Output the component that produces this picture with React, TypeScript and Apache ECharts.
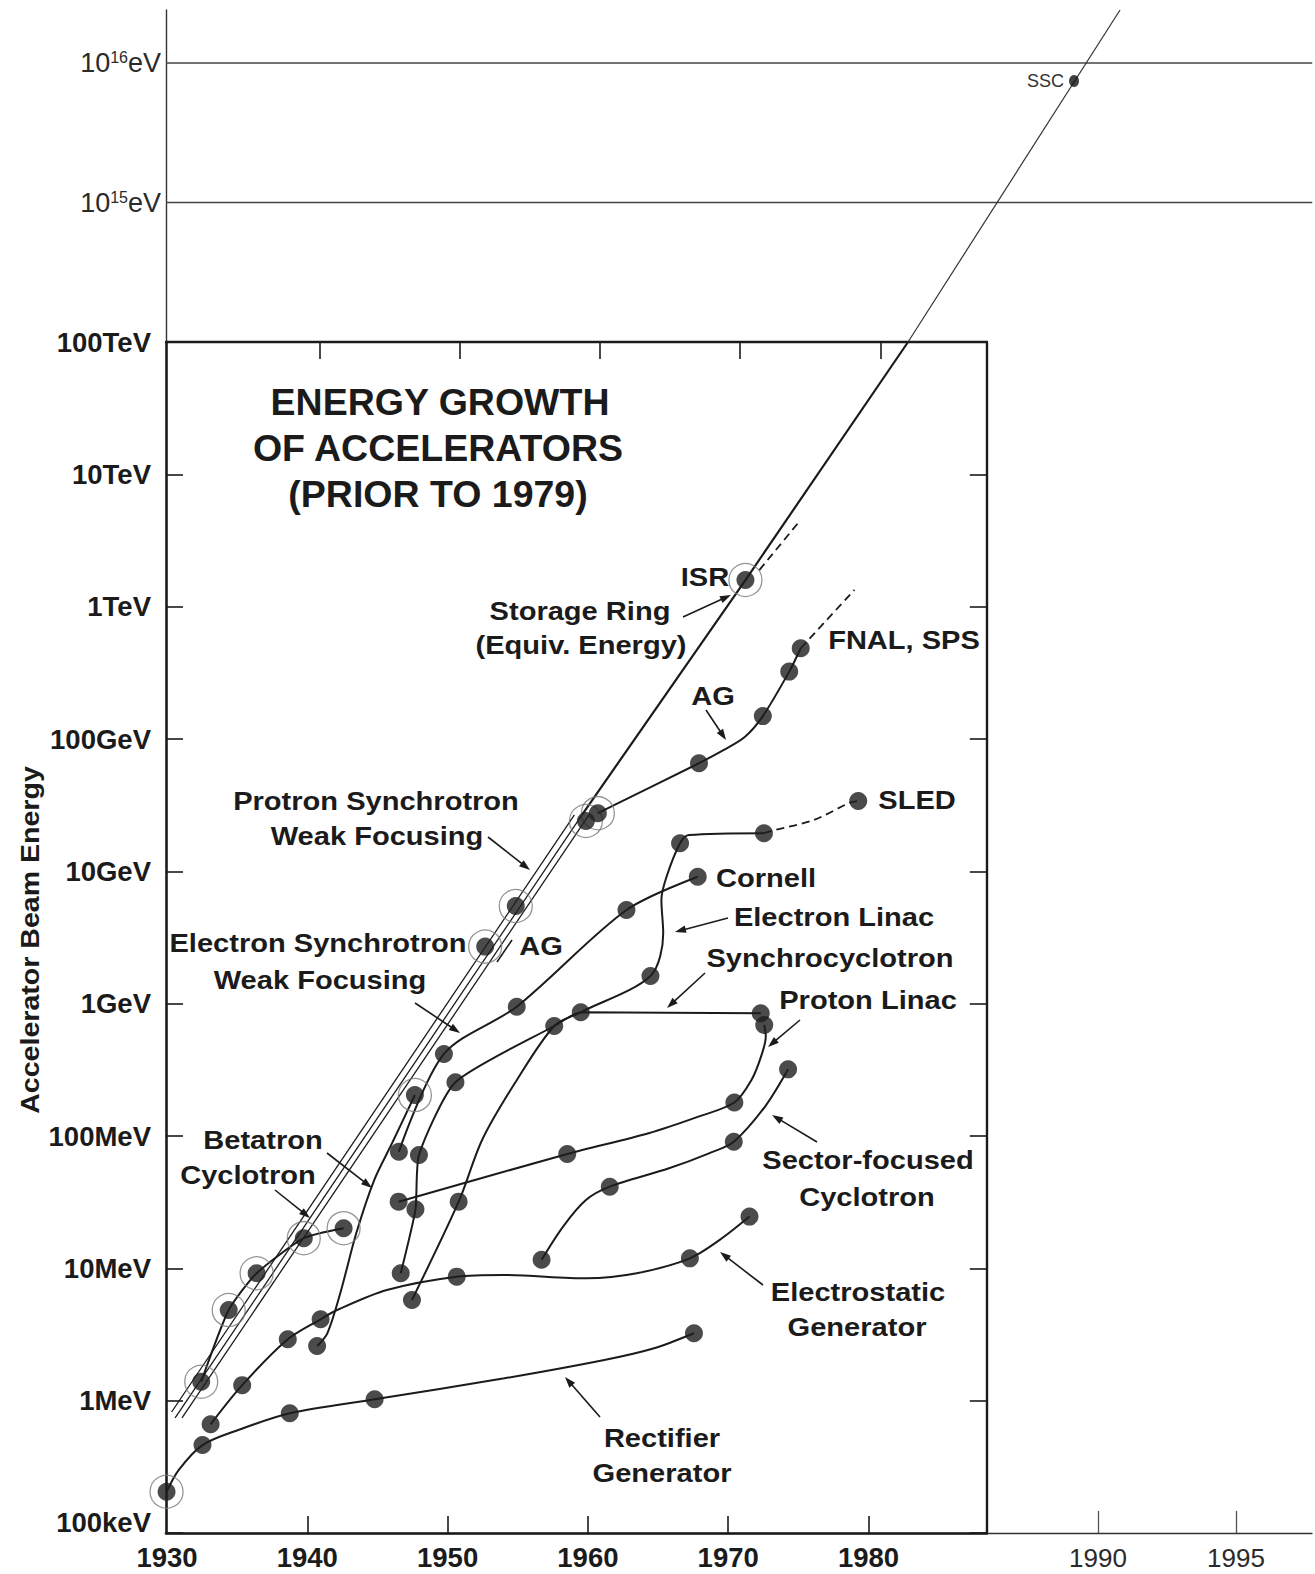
import React, { useEffect, useRef } from "react";
import * as echarts from "echarts";

// ---------------- tick / label definitions ----------------
const yearTickValues = [1940, 1950, 1960, 1970, 1980];
const yearLabelValues = [1930, 1940, 1950, 1960, 1970, 1980];
const laterYearValues = [1990, 1995];
const energyTickNames = ["100keV", "1MeV", "10MeV", "100MeV", "1GeV", "10GeV", "100GeV", "1TeV", "10TeV", "100TeV"]; // 1e5 .. 1e14 eV
const upperExponents = [15, 16];

// ---------------- data: [year, beam energy in eV] ----------------
const rectifierDots = [[1932.10, 4.62e5], [1938.32, 8.03e5], [1944.37, 1.024e6], [1967.13, 3.23e6]];
const rectifierCurve = [[1929.54, 2.05e5], [1930.40, 2.99e5], [1932.10, 4.62e5], [1934.65, 6.0e5], [1938.32, 8.03e5], [1944.37, 1.024e6], [1953.62, 1.476e6], [1960.74, 2.03e6], [1964.29, 2.49e6], [1967.13, 3.23e6]];

const electrostaticDots = [[1932.68, 6.63e5], [1934.93, 1.31e6], [1938.18, 2.91e6], [1940.52, 4.12e6], [1950.22, 8.65e6], [1966.84, 1.19e7], [1971.09, 2.46e7]];
const electrostaticCurve = [[1932.68, 6.63e5], [1934.93, 1.31e6], [1938.18, 2.91e6], [1940.52, 4.12e6], [1941.69, 4.84e6], [1945.24, 6.86e6], [1950.22, 8.65e6], [1953.55, 8.91e6], [1959.49, 8.41e6], [1963.05, 9.18e6], [1966.84, 1.19e7], [1968.97, 1.64e7], [1971.09, 2.46e7]];

const cyclotronCurve = [[1932.01, 1.39e6], [1933.97, 4.84e6], [1935.96, 9.18e6], [1939.32, 1.69e7], [1942.16, 2.01e7]];

const betatronDots = [[1940.27, 2.59e6]];
const betatronCurve = [[1940.27, 2.59e6], [1941.0, 3.23e6], [1941.92, 6.48e6], [1943.06, 1.84e7], [1944.34, 4.65e7], [1945.61, 8.81e7], [1947.24, 2.04e8]];

const electronSynchrotronDots = [[1946.10, 7.61e7], [1949.31, 4.17e8], [1954.50, 9.49e8], [1962.32, 5.10e9], [1967.40, 9.11e9]];
const electronSynchrotronCurve = [[1946.10, 7.61e7], [1949.31, 4.17e8], [1954.50, 9.49e8], [1962.32, 5.10e9], [1967.40, 9.11e9]];

const synchrocyclotronDots = [[1946.23, 9.18e6], [1947.28, 2.79e7], [1947.53, 7.19e7], [1950.13, 2.55e8], [1957.17, 6.78e8], [1959.06, 8.61e8], [1971.89, 8.46e8]];
const synchrocyclotronCurve = [[1946.23, 9.18e6], [1947.28, 2.79e7], [1947.53, 7.19e7], [1950.13, 2.55e8], [1957.17, 6.78e8], [1959.06, 8.61e8], [1971.89, 8.46e8]];

const electronLinacDots = [[1947.03, 5.77e6], [1950.36, 3.19e7], [1964.03, 1.62e9], [1966.14, 1.63e10], [1972.12, 1.94e10]];
const electronLinacCurve = [[1947.03, 5.77e6], [1950.36, 3.19e7], [1952.03, 9.33e7], [1954.36, 2.50e8], [1957.17, 6.78e8], [1959.06, 8.61e8], [1964.03, 1.62e9], [1964.94, 3.40e9], [1964.81, 6.07e9], [1965.17, 9.06e9], [1966.14, 1.63e10], [1966.78, 1.88e10], [1972.12, 1.94e10]];
const sledDots = [[1978.84, 3.40e10]];
const sledDashed = [[1972.12, 1.94e10], [1972.88, 2.05e10], [1975.67, 2.44e10], [1978.21, 3.29e10], [1978.84, 3.40e10]];

const protonLinacDots = [[1946.08, 3.19e7], [1958.10, 7.31e7], [1970.01, 1.79e8], [1972.14, 6.90e8]];
const protonLinacCurve = [[1946.08, 3.19e7], [1958.10, 7.31e7], [1963.90, 1.05e8], [1967.45, 1.40e8], [1970.01, 1.79e8], [1971.23, 2.65e8], [1971.91, 3.98e8], [1972.25, 5.63e8], [1972.14, 6.90e8]];

const sectorCyclotronDots = [[1956.27, 1.16e7], [1961.13, 4.14e7], [1969.97, 9.06e7], [1973.84, 3.19e8]];
const sectorCyclotronCurve = [[1956.27, 1.16e7], [1957.79, 2.06e7], [1959.43, 3.28e7], [1961.13, 4.14e7], [1965.35, 5.70e7], [1968.20, 7.40e7], [1969.97, 9.06e7], [1972.20, 1.67e8], [1973.84, 3.19e8]];

const agSynchrotronDots = [[1967.49, 6.56e10], [1972.04, 1.49e11], [1973.92, 3.23e11], [1974.74, 4.85e11]];
const agSynchrotronCurve = [[1960.28, 2.75e10], [1967.49, 6.56e10], [1969.26, 8.26e10], [1970.77, 1.04e11], [1972.04, 1.49e11], [1973.92, 3.23e11], [1974.74, 4.85e11]];
const agDashed = [[1974.74, 4.85e11], [1978.57, 1.34e12]];

// circled points (cyclotron, betatron / synchrotron firsts, AG pair, ISR)
const ringedPoints = [[1929.54, 2.05e5], [1932.01, 1.39e6], [1933.97, 4.84e6], [1935.96, 9.18e6], [1939.32, 1.69e7], [1942.16, 2.01e7], [1947.24, 2.04e8], [1952.25, 2.70e9], [1954.43, 5.47e9], [1959.43, 2.40e10], [1960.28, 2.75e10], [1970.80, 1.59e12]];

// envelope lines
const envelopeLeft = [[1929.90, 8.21e5], [1958.61, 2.67e10]];
const envelopeMid = [[1930.15, 7.40e5], [1959.15, 2.67e10]];
const envelopeRight = [[1930.64, 7.40e5], [1959.65, 2.67e10]];
const storageRingLine = [[1959.15, 2.67e10], [1970.80, 1.59e12], [1982.39, 1e14]];
const isrDashed = [[1971.79, 1.89e12], [1974.61, 4.36e12]];

// extension above 100 TeV
const extrapolationLine = [[1982.39, 1e14], [1997.50, 2.399e16]];
const sscPoint = [[1994.22, 7.43e15]];
const upperLineYearSpan = [1929.5, 2011.2];

// ---------------- layout ----------------
const INK = "#1b1b1b";
const FONT = '"Liberation Sans", Arial, Helvetica, sans-serif';
const W = 1315, H = 1574;
const LEFT = 166, PX_PER_YEAR = 14.03, YEAR_MIN = 1929.5;
const BOTTOM_TICK_SHIFT_PX = 6, TOP_TICK_SHIFT_PX = -6;
const MAIN_RIGHT = 1312, BOX_RIGHT = 986.8;
const BOX_TOP = 342, AXIS_BOTTOM = 1533, UPPER_TOP = 10;
const UPPER_DECADE_PX = 139.5;
const LATER_PX = [1098, 1236];

const annotations: { t: string; x: number; y: number; size?: number; sx?: number }[] = [
  { t: "ENERGY GROWTH", x: 440, y: 402, size: 37.5, sx: 1 },
  { t: "OF ACCELERATORS", x: 438, y: 448, size: 37.5, sx: 1 },
  { t: "(PRIOR TO 1979)", x: 438, y: 494, size: 37.5, sx: 1 },
  { t: "ISR", x: 705, y: 577 },
  { t: "Storage Ring", x: 580, y: 611 },
  { t: "(Equiv. Energy)", x: 581, y: 645 },
  { t: "AG", x: 713, y: 696 },
  { t: "FNAL, SPS", x: 904, y: 640 },
  { t: "SLED", x: 917, y: 800 },
  { t: "Cornell", x: 766, y: 878 },
  { t: "Electron Linac", x: 834, y: 917 },
  { t: "Synchrocyclotron", x: 830, y: 958 },
  { t: "Proton Linac", x: 868, y: 1000 },
  { t: "Protron Synchrotron", x: 376, y: 801 },
  { t: "Weak Focusing", x: 377, y: 836 },
  { t: "Electron Synchrotron", x: 318, y: 943 },
  { t: "Weak Focusing", x: 320, y: 980 },
  { t: "AG", x: 541, y: 946 },
  { t: "Betatron", x: 263, y: 1140 },
  { t: "Cyclotron", x: 248, y: 1175 },
  { t: "Sector-focused", x: 868, y: 1160 },
  { t: "Cyclotron", x: 867, y: 1197 },
  { t: "Electrostatic", x: 858, y: 1292 },
  { t: "Generator", x: 857, y: 1327 },
  { t: "Rectifier", x: 662, y: 1438 },
  { t: "Generator", x: 662, y: 1473 },
];

const arrows = [
  [683, 617, 731, 595],
  [706, 710, 726, 740],
  [488, 837, 530, 870],
  [415, 1003, 460, 1033],
  [327, 1153, 372, 1188],
  [275, 1190, 310, 1218],
  [728, 918, 675, 932],
  [705, 973, 667, 1008],
  [800, 1020, 768, 1047],
  [817, 1142, 772, 1115],
  [763, 1285, 720, 1252],
  [600, 1417, 565, 1377],
];
const pointerLines = [[497, 962, 512, 940]];

function textEl(text: string, x: number, y: number, size: number, extra: any = {}) {
  return {
    type: "text",
    x,
    y,
    z: 100,
    silent: true,
    ...extra,
    style: {
      text,
      fill: extra.fill ?? INK,
      fontFamily: FONT,
      fontWeight: extra.weight ?? "bold",
      fontSize: size,
      textAlign: extra.align ?? "center",
      align: extra.align ?? "center",
      textVerticalAlign: "middle",
      verticalAlign: "middle",
    },
  };
}

function buildGraphics() {
  const els: any[] = [];
  annotations.forEach((a) => {
    els.push(textEl(a.t, a.x, a.y, a.size ?? 25.5, { scaleX: a.sx ?? 1.14 }));
  });
  els.push(textEl("Accelerator Beam Energy", 30, 940, 25.5, { rotation: Math.PI / 2, scaleX: 1.12 }));
  els.push(textEl("SSC", 1064, 81, 18, { align: "right", weight: "normal", fill: "#333" }));
  arrows.forEach(([x1, y1, x2, y2]) => {
    const dx = x2 - x1, dy = y2 - y1;
    const len = Math.hypot(dx, dy);
    const ux = dx / len, uy = dy / len;
    const hl = 11, hw = 3.8;
    const bx = x2 - ux * hl, by = y2 - uy * hl;
    els.push({
      type: "line", z: 100, silent: true,
      shape: { x1, y1, x2: bx + ux * 2, y2: by + uy * 2 },
      style: { stroke: INK, lineWidth: 1.6 },
    });
    els.push({
      type: "polygon", z: 100, silent: true,
      shape: { points: [[x2, y2], [bx - uy * hw, by + ux * hw], [bx + uy * hw, by - ux * hw]] },
      style: { fill: INK },
    });
  });
  pointerLines.forEach(([x1, y1, x2, y2]) => {
    els.push({ type: "line", z: 100, silent: true, shape: { x1, y1, x2, y2 }, style: { stroke: INK, lineWidth: 1.6 } });
  });
  return els;
}

function buildOption() {
  const yearMaxMain = YEAR_MIN + (MAIN_RIGHT - LEFT) / PX_PER_YEAR;
  const boxYears = (BOX_RIGHT - LEFT) / PX_PER_YEAR;
  const bottomMin = YEAR_MIN + BOTTOM_TICK_SHIFT_PX / PX_PER_YEAR;
  const topMin = YEAR_MIN + TOP_TICK_SHIFT_PX / PX_PER_YEAR;
  const laterPxPerYear = (LATER_PX[1] - LATER_PX[0]) / (laterYearValues[1] - laterYearValues[0]);
  const laterMin = laterYearValues[0] - (LATER_PX[0] - LEFT) / laterPxPerYear;
  const laterMax = laterMin + (MAIN_RIGHT - LEFT) / laterPxPerYear;
  const upperMaxExp = 14 + (BOX_TOP - UPPER_TOP) / UPPER_DECADE_PX;

  const yearFmt = (v: number) => String(Math.round(v));
  const labelBold = { color: INK, fontFamily: FONT, fontWeight: "bold" as const, fontSize: 27.5 };

  const lineSeries = (data: number[][], width: number, opts: any = {}) => ({
    type: "line",
    data,
    xAxisIndex: opts.xi ?? 0,
    yAxisIndex: opts.yi ?? 0,
    showSymbol: false,
    symbol: "none",
    smooth: opts.smooth ?? 0.3,
    silent: true,
    z: 2,
    lineStyle: { color: opts.color ?? INK, width, type: opts.dash ?? "solid" },
  });

  const allDots = [
    ...rectifierDots, ...electrostaticDots, ...betatronDots, ...electronSynchrotronDots,
    ...synchrocyclotronDots, ...electronLinacDots, ...sledDots, ...protonLinacDots,
    ...sectorCyclotronDots, ...agSynchrotronDots, ...ringedPoints,
  ];

  return {
    animation: false,
    backgroundColor: "#ffffff",
    grid: [
      { left: LEFT, right: W - MAIN_RIGHT, top: BOX_TOP, bottom: H - AXIS_BOTTOM, containLabel: false, outerBoundsMode: "none" },
      { left: LEFT, right: W - BOX_RIGHT, top: BOX_TOP, bottom: H - AXIS_BOTTOM, containLabel: false, outerBoundsMode: "none" },
      { left: LEFT, right: W - MAIN_RIGHT, top: UPPER_TOP, bottom: H - BOX_TOP, containLabel: false, outerBoundsMode: "none" },
    ],
    xAxis: [
      {
        // data axis of the main panel
        gridIndex: 0, type: "value", position: "bottom", min: YEAR_MIN, max: yearMaxMain,
        axisLine: { show: true, onZero: false, lineStyle: { color: "#333", width: 1.4 } },
        axisTick: { show: false }, axisLabel: { show: false }, splitLine: { show: false },
      },
      {
        gridIndex: 0, type: "value", position: "bottom", min: laterMin, max: laterMax,
        axisLine: { show: false },
        axisTick: { show: true, inside: true, length: 22, customValues: laterYearValues, lineStyle: { color: "#555", width: 1.3 } },
        axisLabel: { show: true, customValues: laterYearValues, formatter: yearFmt, margin: 12, color: "#2a2a2a", fontFamily: FONT, fontWeight: "normal", fontSize: 26 },
        splitLine: { show: false },
      },
      {
        gridIndex: 1, type: "value", position: "top", min: topMin, max: topMin + boxYears,
        axisLine: { show: true, onZero: false, lineStyle: { color: INK, width: 2.4 } },
        axisTick: { show: true, inside: true, length: 17, customValues: yearTickValues, lineStyle: { color: INK, width: 1.6 } },
        axisLabel: { show: false },
        splitLine: { show: false },
      },
      {
        gridIndex: 1, type: "value", position: "bottom", min: bottomMin, max: bottomMin + boxYears,
        axisLine: { show: true, onZero: false, lineStyle: { color: INK, width: 2.6 } },
        axisTick: { show: true, inside: true, length: 17, customValues: yearTickValues, lineStyle: { color: INK, width: 1.6 } },
        axisLabel: { show: true, customValues: yearLabelValues, formatter: yearFmt, margin: 10, ...labelBold },
        splitLine: { show: false },
      },
      { gridIndex: 2, type: "value", min: YEAR_MIN, max: yearMaxMain, show: false, splitLine: { show: false } },
    ],
    yAxis: [
      {
        gridIndex: 0, type: "log", logBase: 10, min: 1e5, max: 1e14, position: "left",
        axisLine: { show: true, onZero: false, lineStyle: { color: INK, width: 2.6 } },
        axisTick: { show: true, inside: true, length: 17, lineStyle: { color: INK, width: 1.6 } },
        minorTick: { show: false },
        axisLabel: {
          margin: 15,
          ...labelBold,
          formatter: (v: number) => {
            const e = Math.round(Math.log10(v));
            const name = energyTickNames[e - 5] ?? "";
            return e === 5 ? `{low|${name}}` : name;
          },
          rich: { low: { ...labelBold, padding: [0, 0, 22, 0] } },
        },
        splitLine: { show: false },
      },
      {
        gridIndex: 1, type: "log", logBase: 10, min: 1e5, max: 1e14, position: "right",
        axisLine: { show: true, onZero: false, lineStyle: { color: INK, width: 2.4 } },
        axisTick: { show: true, inside: true, length: 17, lineStyle: { color: INK, width: 1.6 } },
        axisLabel: { show: false }, splitLine: { show: false },
      },
      {
        gridIndex: 2, type: "log", logBase: 10, min: 1e14, max: Math.pow(10, upperMaxExp), position: "left",
        axisLine: { show: true, onZero: false, lineStyle: { color: "#333", width: 1.4 } },
        axisTick: { show: false },
        axisLabel: {
          margin: 5,
          color: "#2a2a2a",
          fontFamily: FONT,
          fontSize: 27,
          formatter: (v: number) => {
            const e = Math.round(Math.log10(v));
            if (Math.abs(Math.log10(v) - e) > 1e-6 || upperExponents.indexOf(e) < 0) return "";
            return `{n|10}{s|${e}}{n|eV}`;
          },
          rich: {
            n: { fontSize: 27, fontFamily: FONT, color: "#2a2a2a" },
            s: { fontSize: 16, fontFamily: FONT, color: "#2a2a2a", verticalAlign: "top" },
          },
        },
        splitLine: { show: false },
      },
    ],
    graphic: { elements: buildGraphics() },
    series: [
      lineSeries(envelopeLeft, 1.3, { smooth: false }),
      lineSeries(envelopeMid, 1.3, { smooth: false }),
      lineSeries(envelopeRight, 1.3, { smooth: false }),
      lineSeries(storageRingLine, 2.2, { smooth: false }),
      lineSeries(isrDashed, 1.8, { smooth: false, dash: [8, 5] }),
      lineSeries(rectifierCurve, 2),
      lineSeries(electrostaticCurve, 2),
      lineSeries(cyclotronCurve, 2, { smooth: 0.2 }),
      lineSeries(betatronCurve, 2),
      lineSeries(electronSynchrotronCurve, 2),
      lineSeries(synchrocyclotronCurve, 2, { smooth: 0.2 }),
      lineSeries(electronLinacCurve, 2),
      lineSeries(sledDashed, 1.8, { dash: [8, 5] }),
      lineSeries(protonLinacCurve, 2),
      lineSeries(sectorCyclotronCurve, 2),
      lineSeries(agSynchrotronCurve, 2),
      lineSeries(agDashed, 1.8, { smooth: false, dash: [8, 5] }),
      lineSeries([[upperLineYearSpan[0], 1e15], [upperLineYearSpan[1], 1e15]], 1.4, { xi: 4, yi: 2, smooth: false, color: "#444" }),
      lineSeries([[upperLineYearSpan[0], 1e16], [upperLineYearSpan[1], 1e16]], 1.4, { xi: 4, yi: 2, smooth: false, color: "#444" }),
      lineSeries(extrapolationLine, 1.2, { xi: 4, yi: 2, smooth: false, color: "#333" }),
      {
        type: "scatter", data: ringedPoints, xAxisIndex: 0, yAxisIndex: 0, symbol: "circle", symbolSize: 33, silent: true, z: 3,
        itemStyle: { color: "rgba(0,0,0,0)", borderColor: "#7a7a7a", borderWidth: 1.3 },
      },
      {
        type: "scatter", data: allDots, xAxisIndex: 0, yAxisIndex: 0, symbol: "circle", symbolSize: 18, silent: true, z: 4,
        itemStyle: { color: "#1e1e1e" },
      },
      {
        type: "scatter", data: sscPoint, xAxisIndex: 4, yAxisIndex: 2, symbol: "circle", symbolSize: [10, 12], silent: true, z: 4,
        itemStyle: { color: "#111" },
      },
    ],
  };
}

export default function App() {
  const ref = useRef<HTMLDivElement>(null);
  useEffect(() => {
    if (!ref.current) return;
    const chart = echarts.init(ref.current, null, { renderer: "svg" });
    chart.setOption(buildOption() as any);
    return () => {
      chart.dispose();
    };
  }, []);
  return (
    <div
      ref={ref}
      style={{ position: "absolute", left: 0, top: 0, width: W, height: H, background: "#fff" }}
    />
  );
}
